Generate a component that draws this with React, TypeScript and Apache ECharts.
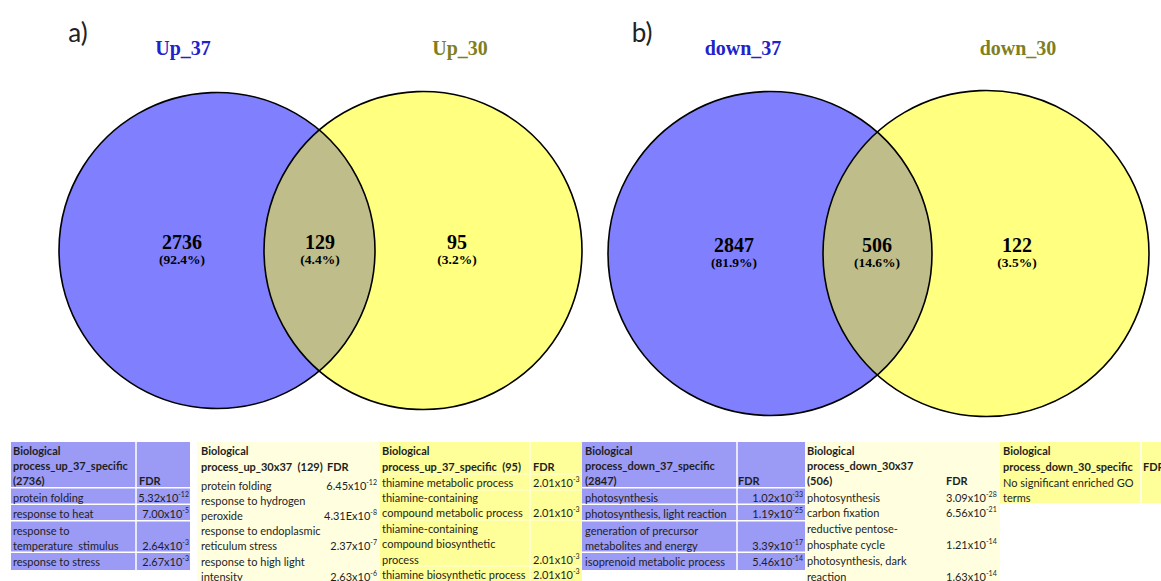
import React, { useEffect, useRef } from "react";
import * as echarts from "echarts";

// ---------- DATA ----------
const panelLabels = ["a)", "b)"];
const vennATitles = ["Up_37", "Up_30"];
const vennACounts = [2736, 129, 95];
const vennAPercents = ["92.4%", "4.4%", "3.2%"];
const vennBTitles = ["down_37", "down_30"];
const vennBCounts = [2847, 506, 122];
const vennBPercents = ["81.9%", "14.6%", "3.5%"];

const t1Header = ["Biological", "process_up_37_specific", "(2736)"];
const t1Terms = [["protein folding"], ["response to heat"], ["response to", "temperature  stimulus"], ["response to stress"]];
const t1Fdr = [["5.32", "-12"], ["7.00", "-5"], ["2.64", "-3"], ["2.67", "-3"]];

const t2Header = ["Biological", "process_up_30x37  (129)"];
const t2Terms = [["protein folding"], ["response to hydrogen", "peroxide"], ["response to endoplasmic", "reticulum stress"], ["response to high light", "intensity"]];
const t2Fdr = [["6.45", "-12"], ["4.31E", "-8"], ["2.37", "-7"], ["2.63", "-6"]];

const t3Header = ["Biological", "process_up_37_specific  (95)"];
const t3Terms = [["thiamine metabolic process"], ["thiamine-containing", "compound metabolic process"], ["thiamine-containing", "compound biosynthetic", "process"], ["thiamine biosynthetic process"]];
const t3Fdr = [["2.01", "-3"], ["2.01", "-3"], ["2.01", "-3"], ["2.01", "-3"]];

const t4Header = ["Biological", "process_down_37_specific", "(2847)"];
const t4Terms = [["photosynthesis"], ["photosynthesis, light reaction"], ["generation of precursor", "metabolites and energy"], ["isoprenoid metabolic process"]];
const t4Fdr = [["1.02", "-33"], ["1.19", "-25"], ["3.39", "-17"], ["5.46", "-14"]];

const t5Header = ["Biological", "process_down_30x37", "(506)"];
const t5Terms = [["photosynthesis"], ["carbon fixation"], ["reductive pentose-", "phosphate cycle"], ["photosynthesis, dark", "reaction"]];
const t5Fdr = [["3.09", "-28"], ["6.56", "-21"], ["1.21", "-14"], ["1.63", "-14"]];

const t6Header = ["Biological", "process_down_30_specific"];
const t6Terms = [["No significant enriched GO", "terms"]];
const t6Fdr: string[][] = [];

const fdrLabel = "FDR";

// ---------- STYLE / LAYOUT ----------
const BLUE = "#8080FF";
const YELLOW = "#FFFF80";
const OVERLAP = "#BFBE8A";
const TBL_BLUE = "#9B9BF6";
const TBL_LIGHT = "#FFFFDF";
const TBL_YELLOW = "#FFFF99";
const TXT = "#1e1e1e";
const SANS = "Lato";
const SERIF = "'Liberation Serif'";
const TABLE_TOP = 442;

function lensPath(c1x: number, c2x: number, cy: number, r1: number, r2: number) {
  const d = c2x - c1x;
  const a = (d * d + r1 * r1 - r2 * r2) / (2 * d);
  const h = Math.sqrt(r1 * r1 - a * a);
  const px = c1x + a;
  return `M${px} ${cy - h} A${r2} ${r2} 0 0 0 ${px} ${cy + h} A${r1} ${r1} 0 0 0 ${px} ${cy - h} Z`;
}

function vennGraphics(v: any) {
  const els: any[] = [];
  els.push({ type: "circle", shape: { cx: v.c1, cy: v.cy, r: v.r1 }, style: { fill: BLUE } });
  els.push({ type: "circle", shape: { cx: v.c2, cy: v.cy, r: v.r2 }, style: { fill: YELLOW } });
  els.push({ type: v.lens, x: 0, y: 0, style: { fill: OVERLAP } });
  els.push({ type: "circle", shape: { cx: v.c1, cy: v.cy, r: v.r1 }, style: { fill: "none", stroke: "#000", lineWidth: 1.6 } });
  els.push({ type: "circle", shape: { cx: v.c2, cy: v.cy, r: v.r2 }, style: { fill: "none", stroke: "#000", lineWidth: 1.6 } });
  els.push({ type: "text", x: v.panelX, y: 32, style: { text: v.panel, font: `26px ${SANS}`, fill: "#222", align: "center", verticalAlign: "middle" } });
  els.push({ type: "text", x: v.t1x, y: 48, style: { text: v.titles[0], font: `bold 20px ${SERIF}`, fill: "#2222CC", align: "center", verticalAlign: "middle" } });
  els.push({ type: "text", x: v.t2x, y: 48, style: { text: v.titles[1], font: `bold 20px ${SERIF}`, fill: "#7F7F22", align: "center", verticalAlign: "middle" } });
  v.labelX.forEach((lx: number, i: number) => {
    els.push({ type: "text", x: lx, y: v.numY, style: { text: String(v.counts[i]), font: `bold 20px ${SERIF}`, fill: "#000", align: "center", verticalAlign: "middle" } });
    els.push({ type: "text", x: lx, y: v.numY + 17, style: { text: `(${v.pcts[i]})`, font: `bold 13.5px ${SERIF}`, fill: "#000", align: "center", verticalAlign: "middle" } });
  });
  return els;
}

function fdrStyle(m: string, e: string, align: string) {
  return {
    text: `{m|${m}x10}{s|${e}}`,
    align,
    verticalAlign: "middle",
    rich: {
      m: { font: `11px ${SANS}`, fill: TXT, lineHeight: 14 },
      s: { font: `7px ${SANS}`, fill: TXT, lineHeight: 7, verticalAlign: "top" },
    },
  };
}

function tableGraphics(t: any) {
  const els: any[] = [];
  els.push({ type: "rect", shape: { x: t.x0, y: TABLE_TOP, width: t.x1 - t.x0, height: t.bottom - TABLE_TOP }, style: { fill: t.bg } });
  let hdrYs: number[] = [];
  const rowYs: number[][] = [];
  if (t.bordered) {
    let y = TABLE_TOP;
    const bands = [t.header.length, ...t.terms.map((r: string[]) => r.length)];
    bands.forEach((n: number, bi: number) => {
      const ys: number[] = [];
      for (let k = 0; k < n; k++) ys.push(y + 8.5 + k * 15);
      if (bi === 0) hdrYs = ys;
      else rowYs.push(ys);
      y += n * 15 + 1.5;
      if (bi < bands.length - 1)
        els.push({ type: "line", shape: { x1: t.x0, y1: y - 0.75, x2: t.x1, y2: y - 0.75 }, style: { stroke: "#FFFFFF", lineWidth: 1.5 } });
    });
  } else {
    hdrYs = t.header.map((_: string, k: number) => t.hStart + k * t.hLh);
    let j = 0;
    t.terms.forEach((r: string[]) => {
      const ys: number[] = [];
      r.forEach(() => {
        ys.push(t.rStart + j * t.rLh);
        j++;
      });
      rowYs.push(ys);
    });
    (t.hLines || []).forEach((yy: number) =>
      els.push({ type: "line", shape: { x1: t.x0, y1: yy, x2: t.x1, y2: yy }, style: { stroke: "rgba(255,255,255,0.7)", lineWidth: 1 } })
    );
  }
  if (t.split)
    els.push({ type: "line", shape: { x1: t.split, y1: TABLE_TOP, x2: t.split, y2: t.bottom }, style: { stroke: t.splitColor || "#FFFFFF", lineWidth: 1.5 } });
  t.header.forEach((h: string, k: number) => {
    els.push({ type: "text", x: t.tx, y: hdrYs[k], style: { text: h, font: `bold 11px ${SANS}`, fill: TXT, align: "left", verticalAlign: "middle" } });
  });
  els.push({ type: "text", x: t.fdrX, y: hdrYs[t.fdrLine], style: { text: fdrLabel, font: `bold 11px ${SANS}`, fill: TXT, align: "left", verticalAlign: "middle" } });
  t.terms.forEach((r: string[], i: number) => {
    r.forEach((line: string, k: number) => {
      els.push({ type: "text", x: t.tx, y: rowYs[i][k], style: { text: line, font: `11px ${SANS}`, fill: TXT, align: "left", verticalAlign: "middle" } });
    });
    const f = t.fdr[i];
    if (f) {
      els.push({ type: "text", x: t.vx, y: rowYs[i][r.length - 1], style: fdrStyle(f[0], f[1], t.valign) });
    }
  });
  return els;
}

export default function App() {
  const ref = useRef<HTMLDivElement>(null);
  useEffect(() => {
    document.body.style.margin = "0";
    const vA = { c1: 217, c2: 423, cy: 250.5, r1: 158, r2: 159 };
    const vB = { c1: 770, c2: 986, cy: 253.5, r1: 162, r2: 163 };
    echarts.graphic.registerShape("lensA", echarts.graphic.extendPath(lensPath(vA.c1, vA.c2, vA.cy, vA.r1, vA.r2), {}));
    echarts.graphic.registerShape("lensB", echarts.graphic.extendPath(lensPath(vB.c1, vB.c2, vB.cy, vB.r1, vB.r2), {}));
    const chart = echarts.init(ref.current!, null, { renderer: "svg" });

    const elements: any[] = [
      ...vennGraphics({ ...vA, lens: "lensA", panel: panelLabels[0], panelX: 78, titles: vennATitles, t1x: 183, t2x: 460, counts: vennACounts, pcts: vennAPercents, labelX: [182, 320, 457], numY: 242 }),
      ...vennGraphics({ ...vB, lens: "lensB", panel: panelLabels[1], panelX: 642, titles: vennBTitles, t1x: 743, t2x: 1018, counts: vennBCounts, pcts: vennBPercents, labelX: [734, 877, 1017], numY: 245 }),
      ...tableGraphics({ x0: 11, x1: 190, bottom: 570, bg: TBL_BLUE, bordered: true, split: 136, header: t1Header, terms: t1Terms, fdr: t1Fdr, tx: 13, fdrX: 139, fdrLine: 2, vx: 189, valign: "right" }),
      ...tableGraphics({ x0: 197, x1: 380, bottom: 581, bg: TBL_LIGHT, bordered: false, header: t2Header, terms: t2Terms, fdr: t2Fdr, tx: 201, fdrX: 327, fdrLine: 1, vx: 377, valign: "right", hStart: 450.5, hLh: 16, rStart: 485, rLh: 15.2 }),
      ...tableGraphics({ x0: 380, x1: 582, bottom: 581, bg: TBL_YELLOW, bordered: false, split: 530, splitColor: "rgba(255,255,255,0.7)", header: t3Header, terms: t3Terms, fdr: t3Fdr, tx: 382, fdrX: 533, fdrLine: 1, vx: 533, valign: "left", hStart: 450, hLh: 16.5, rStart: 482, rLh: 15.4, hLines: [474, 490, 520, 566] }),
      ...tableGraphics({ x0: 582, x1: 805, bottom: 570, bg: TBL_BLUE, bordered: true, split: 737, header: t4Header, terms: t4Terms, fdr: t4Fdr, tx: 585, fdrX: 738, fdrLine: 2, vx: 803, valign: "right" }),
      ...tableGraphics({ x0: 805, x1: 1000, bottom: 581, bg: TBL_LIGHT, bordered: false, header: t5Header, terms: t5Terms, fdr: t5Fdr, tx: 807, fdrX: 946, fdrLine: 2, vx: 946, valign: "left", hStart: 450, hLh: 15.3, rStart: 497, rLh: 15.8 }),
      ...tableGraphics({ x0: 1000, x1: 1161, bottom: 503, bg: TBL_YELLOW, bordered: false, split: 1141, header: t6Header, terms: t6Terms, fdr: t6Fdr, tx: 1003, fdrX: 1143, fdrLine: 1, vx: 1143, valign: "left", hStart: 450, hLh: 16, rStart: 482, rLh: 15 }),
    ];

    chart.setOption({
      animation: false,
      backgroundColor: "#FFFFFF",
      graphic: { elements },
    });
    return () => chart.dispose();
  }, []);
  return <div ref={ref} style={{ width: 1161, height: 581 }} />;
}
